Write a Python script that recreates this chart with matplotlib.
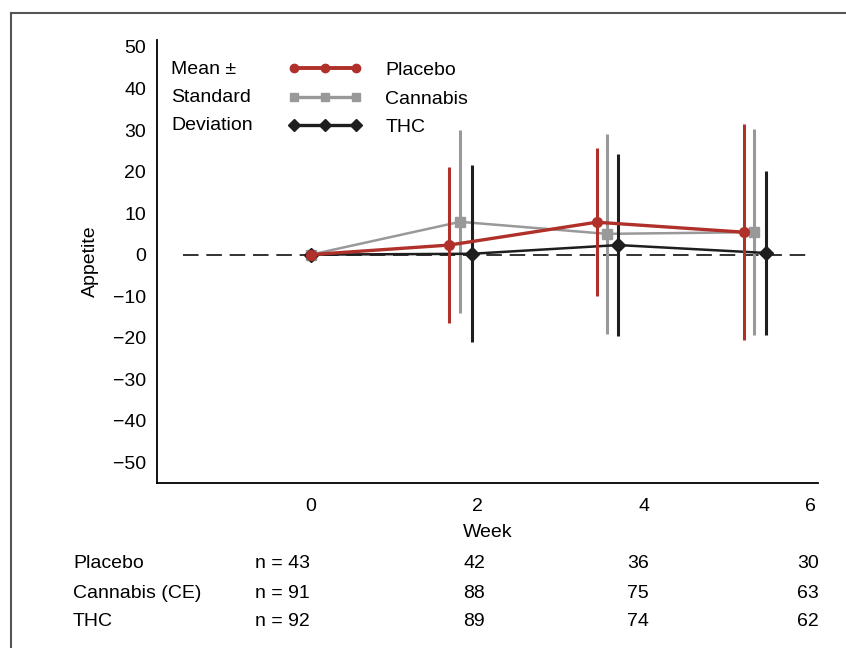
import matplotlib
matplotlib.use('Agg')
import matplotlib.pyplot as plt
from matplotlib.lines import Line2D
from matplotlib.transforms import blended_transform_factory

plt.rcParams['font.family'] = ['Liberation Sans', 'DejaVu Sans']

# x positions (weeks, with the dodge seen in the figure)
x_placebo = [0, 1.66, 3.43, 5.20]
x_cannabis = [0, 1.79, 3.55, 5.32]
x_thc = [0, 1.93, 3.69, 5.46]

mean_placebo = [0, 2.3, 7.8, 5.4]
mean_cannabis = [0, 7.9, 5.0, 5.4]
mean_thc = [0, 0.2, 2.3, 0.4]

sd_placebo = [0, 18.7, 17.8, 26.0]
sd_cannabis = [0, 22.0, 24.0, 24.8]
sd_thc = [0, 21.3, 22.0, 19.7]

weeks = [0, 2, 4, 6]
yticks = [50, 40, 30, 20, 10, 0, -10, -20, -30, -40, -50]

row_names = ['Placebo', 'Cannabis (CE)', 'THC']
n_counts = [[43, 42, 36, 30],
            [91, 88, 75, 63],
            [92, 89, 74, 62]]

red = '#b0302a'
gray = '#999999'
black = '#1e1e1e'
fs = 14

fig = plt.figure(figsize=(8.46, 6.48), dpi=100)
ax = fig.add_axes([0.1856, 0.2546, 0.7813, 0.6838])

ax.axhline(0, xmin=0.04, xmax=0.99, color='#333333', lw=1.4, ls=(0, (8, 4)), zorder=1)

series = [
    (x_cannabis, mean_cannabis, sd_cannabis, gray, 's', 1.8, 2),
    (x_thc, mean_thc, sd_thc, black, 'D', 1.8, 3),
    (x_placebo, mean_placebo, sd_placebo, red, 'o', 2.4, 4),
]
for xs, m, sd, c, mk, lw, z in series:
    ax.errorbar(xs[1:], m[1:], yerr=sd[1:], fmt='none', ecolor=c, elinewidth=2.2, capsize=0, zorder=z)
    ax.plot(xs, m, color=c, lw=lw, marker=mk, ms=7, zorder=z)

ax.set_xlim(-1.85, 6.09)
ax.set_ylim(-55, 51.7)
ax.set_xticks(weeks)
ax.set_yticks(yticks)
ax.set_yticklabels([str(v).replace('-', '\u2212') for v in yticks])
ax.tick_params(length=0, labelsize=fs, pad=8)
ax.tick_params(axis='x', pad=11)
for s in ['top', 'right']:
    ax.spines[s].set_visible(False)
for s in ['left', 'bottom']:
    ax.spines[s].set_linewidth(1.3)
ax.set_xlabel('Week', fontsize=fs, labelpad=6)
ax.set_ylabel('Appetite', fontsize=fs, labelpad=10)

# legend
ax.text(-1.68, 46.6, 'Mean \u00b1\nStandard\nDeviation', fontsize=fs, va='top', linespacing=1.85)
handles = [Line2D([], [], color=red, lw=2.8, marker='o', ms=6),
           Line2D([], [], color=gray, lw=2.4, marker='s', ms=6),
           Line2D([], [], color=black, lw=2.4, marker='D', ms=6)]
ax.legend(handles, ['Placebo', 'Cannabis', 'THC'], loc='upper left',
          bbox_to_anchor=(0.175, 0.986), frameon=False, fontsize=fs,
          handlelength=3.8, handletextpad=1.2, labelspacing=0.55,
          numpoints=3, borderpad=0.3)

# n table
tr = blended_transform_factory(ax.transData, fig.transFigure)
row_y = [1 - 563 / 648, 1 - 593 / 648, 1 - 622 / 648]
for name, counts, y in zip(row_names, n_counts, row_y):
    fig.text(73 / 846, y, name, fontsize=fs, va='center')
    ax.text(-0.67, y, 'n = %d' % counts[0], fontsize=fs, va='center', transform=tr)
    for wx, c in zip([2.09, 4.06, 6.1], counts[1:]):
        ax.text(wx, y, str(c), fontsize=fs, va='center', ha='right', transform=tr)

# frame around the panel
fig.add_artist(Line2D([11 / 846, 1], [1 - 13 / 648, 1 - 13 / 648], color='#555555', lw=1.5))
fig.add_artist(Line2D([11 / 846, 11 / 846], [0, 1 - 13 / 648], color='#555555', lw=1.5))

fig.savefig('out.png', dpi=100)
